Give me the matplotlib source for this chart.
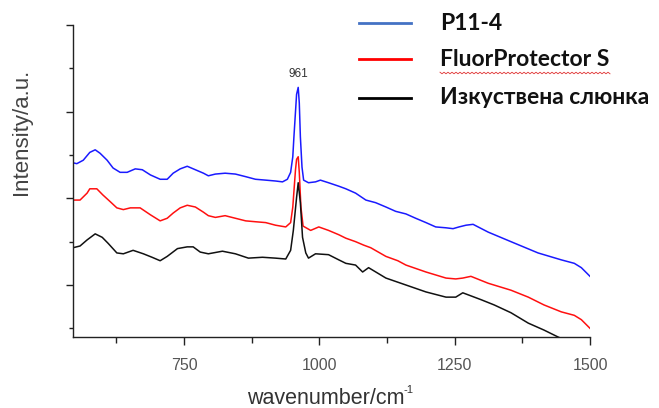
import numpy as np
import matplotlib
matplotlib.use("Agg")
import matplotlib.pyplot as plt
from matplotlib.lines import Line2D
from matplotlib.ticker import MultipleLocator, NullFormatter

# Raman spectra (wavenumber in cm^-1, intensity in arbitrary units)
wn_p114 = [545, 552, 564, 576, 586, 595, 608, 619, 632, 645,
           660, 673, 688, 706, 719, 730, 743, 756, 771, 786,
           795, 808, 826, 845, 864, 882, 901, 919, 932, 941,
           947, 951, 953, 956, 958, 961, 963, 965, 968, 971,
           980, 993, 1002, 1017, 1036, 1049, 1067, 1086, 1104, 1123,
           1141, 1160, 1178, 1197, 1215, 1234, 1247, 1258, 1271, 1284,
           1312, 1354, 1404, 1447, 1471, 1484, 1500]
int_p114 = [1.41, 1.40, 1.44, 1.53, 1.56, 1.52, 1.44, 1.35, 1.30, 1.30,
            1.34, 1.33, 1.27, 1.22, 1.22, 1.29, 1.34, 1.37, 1.33, 1.29,
            1.26, 1.28, 1.29, 1.28, 1.25, 1.22, 1.21, 1.20, 1.19, 1.22,
            1.30, 1.48, 1.70, 2.00, 2.20, 2.28, 2.10, 1.71, 1.36, 1.21,
            1.18, 1.19, 1.21, 1.18, 1.14, 1.11, 1.06, 0.98, 0.95, 0.90,
            0.85, 0.82, 0.77, 0.72, 0.67, 0.66, 0.65, 0.67, 0.69, 0.70,
            0.61, 0.50, 0.37, 0.29, 0.25, 0.20, 0.10]

wn_fluor = [545, 558, 571, 576, 589, 600, 614, 626, 638, 651,
            669, 688, 706, 719, 730, 743, 756, 771, 786, 795,
            808, 826, 845, 864, 882, 901, 919, 938, 947, 951,
            956, 958, 961, 963, 966, 970, 984, 999, 1017, 1036,
            1049, 1067, 1082, 1095, 1123, 1145, 1160, 1197, 1234, 1252,
            1265, 1280, 1312, 1354, 1386, 1415, 1447, 1471, 1484, 1500]
int_fluor = [0.98, 0.98, 1.06, 1.11, 1.11, 1.04, 0.96, 0.89, 0.87, 0.89,
             0.89, 0.81, 0.74, 0.77, 0.83, 0.89, 0.92, 0.90, 0.84, 0.80,
             0.78, 0.80, 0.77, 0.74, 0.73, 0.72, 0.69, 0.67, 0.72, 0.90,
             1.33, 1.45, 1.48, 1.30, 0.90, 0.68, 0.63, 0.67, 0.63, 0.58,
             0.54, 0.50, 0.46, 0.43, 0.33, 0.28, 0.23, 0.15, 0.08, 0.07,
             0.08, 0.10, 0.02, -0.06, -0.14, -0.23, -0.31, -0.35, -0.40, -0.50]

wn_saliva = [545, 558, 571, 586, 599, 610, 626, 638, 656, 675,
             691, 706, 719, 738, 756, 767, 780, 795, 821, 845,
             869, 895, 919, 938, 947, 952, 958, 961, 965, 969,
             975, 980, 993, 1017, 1036, 1049, 1067, 1080, 1091, 1123,
             1160, 1197, 1234, 1252, 1265, 1299, 1323, 1354, 1386, 1415,
             1441, 1470, 1500]
int_saliva = [0.43, 0.45, 0.52, 0.59, 0.55, 0.48, 0.37, 0.36, 0.40, 0.36,
              0.32, 0.28, 0.33, 0.42, 0.44, 0.44, 0.38, 0.36, 0.39, 0.36,
              0.31, 0.32, 0.31, 0.30, 0.40, 0.63, 1.01, 1.18, 0.95, 0.55,
              0.37, 0.31, 0.36, 0.35, 0.29, 0.25, 0.23, 0.15, 0.20, 0.08,
              0.00, -0.08, -0.14, -0.14, -0.09, -0.17, -0.23, -0.32, -0.44, -0.52,
              -0.60, -0.68, -0.80]

series_labels = ["P11-4", "FluorProtector S", "Изкуствена слюнка"]
peak_wn = 961
x_ticks = [750, 1000, 1250, 1500]

W, H = 659, 408
fig = plt.figure(figsize=(W / 100, H / 100), dpi=100)
ax = fig.add_axes([73 / W, 1 - 337 / H, (590 - 73) / W, (337 - 25) / H])

ax.plot(wn_p114, int_p114, color="#1a1aff", lw=1.1)
ax.plot(wn_fluor, int_fluor, color="#ff1010", lw=1.1)
ax.plot(wn_saliva, int_saliva, color="#111111", lw=1.1)

ax.set_xlim(545, 1500)
ax.set_ylim(-0.6, 3.0)

for side in ("top", "right"):
    ax.spines[side].set_visible(False)
for side in ("left", "bottom"):
    ax.spines[side].set_color("#222222")
    ax.spines[side].set_linewidth(1.0)

ax.set_xticks(x_ticks)
ax.set_xticklabels([str(t) for t in x_ticks])
ax.xaxis.set_minor_locator(MultipleLocator(125))
ax.yaxis.set_major_locator(MultipleLocator(1.0))
ax.yaxis.set_minor_locator(MultipleLocator(0.5))
ax.yaxis.set_major_formatter(NullFormatter())

ax.tick_params(axis="x", which="major", direction="out", length=6, width=1.0,
               color="#222222", labelsize=11.5, labelcolor="#555555", pad=9,
               labelfontfamily="Liberation Sans")
ax.tick_params(axis="x", which="minor", direction="out", length=4, width=1.0,
               color="#222222")
ax.tick_params(axis="y", which="major", direction="out", length=4.8, width=1.0,
               color="#222222")
ax.tick_params(axis="y", which="minor", direction="out", length=3.2, width=1.0,
               color="#222222")

# peak marker label above the blue maximum
peak_val = int_p114[wn_p114.index(peak_wn)]
ax.annotate(str(peak_wn), xy=(peak_wn, peak_val), xytext=(0, 9.5),
            textcoords="offset points", ha="center", va="center",
            fontsize=8.5, color="#333333", family="Liberation Sans")

# axis titles
fig.text(247 / W, 1 - 404 / H, "wavenumber/cm", ha="left", va="baseline",
         fontsize=15.5, color="#333333", family="Liberation Sans")
fig.text(403 / W, 1 - 393 / H, "-1", ha="left", va="baseline",
         fontsize=8, color="#333333", family="Liberation Sans")
fig.text(22 / W, 1 - 132 / H, "Intensity/a.u.", ha="center", va="center",
         rotation=90, fontsize=16, color="#444444", family="Liberation Sans")

# legend drawn in figure space to the upper right
legend_colors = ["#4472c4", "#ff0000", "#000000"]
legend_rows = [23, 59, 98]
for lab, col, row in zip(series_labels, legend_colors, legend_rows):
    yf = 1 - row / H
    fig.add_artist(Line2D([359 / W, 411 / W], [yf, yf], color=col, lw=2.0,
                          transform=fig.transFigure))
    fig.text(440 / W, yf, lab, ha="left", va="center", fontsize=16.5,
             fontweight="bold", color="#111111", family="Lato")

# spell-check squiggle under the second legend entry
sq_x = np.arange(440, 611, 2)
sq_y = 73 + np.where(np.arange(len(sq_x)) % 2 == 0, -0.8, 0.8)
fig.add_artist(Line2D(sq_x / W, 1 - sq_y / H, color="#e03030", lw=0.6,
                      transform=fig.transFigure))

fig.savefig("out.png", dpi=100)
